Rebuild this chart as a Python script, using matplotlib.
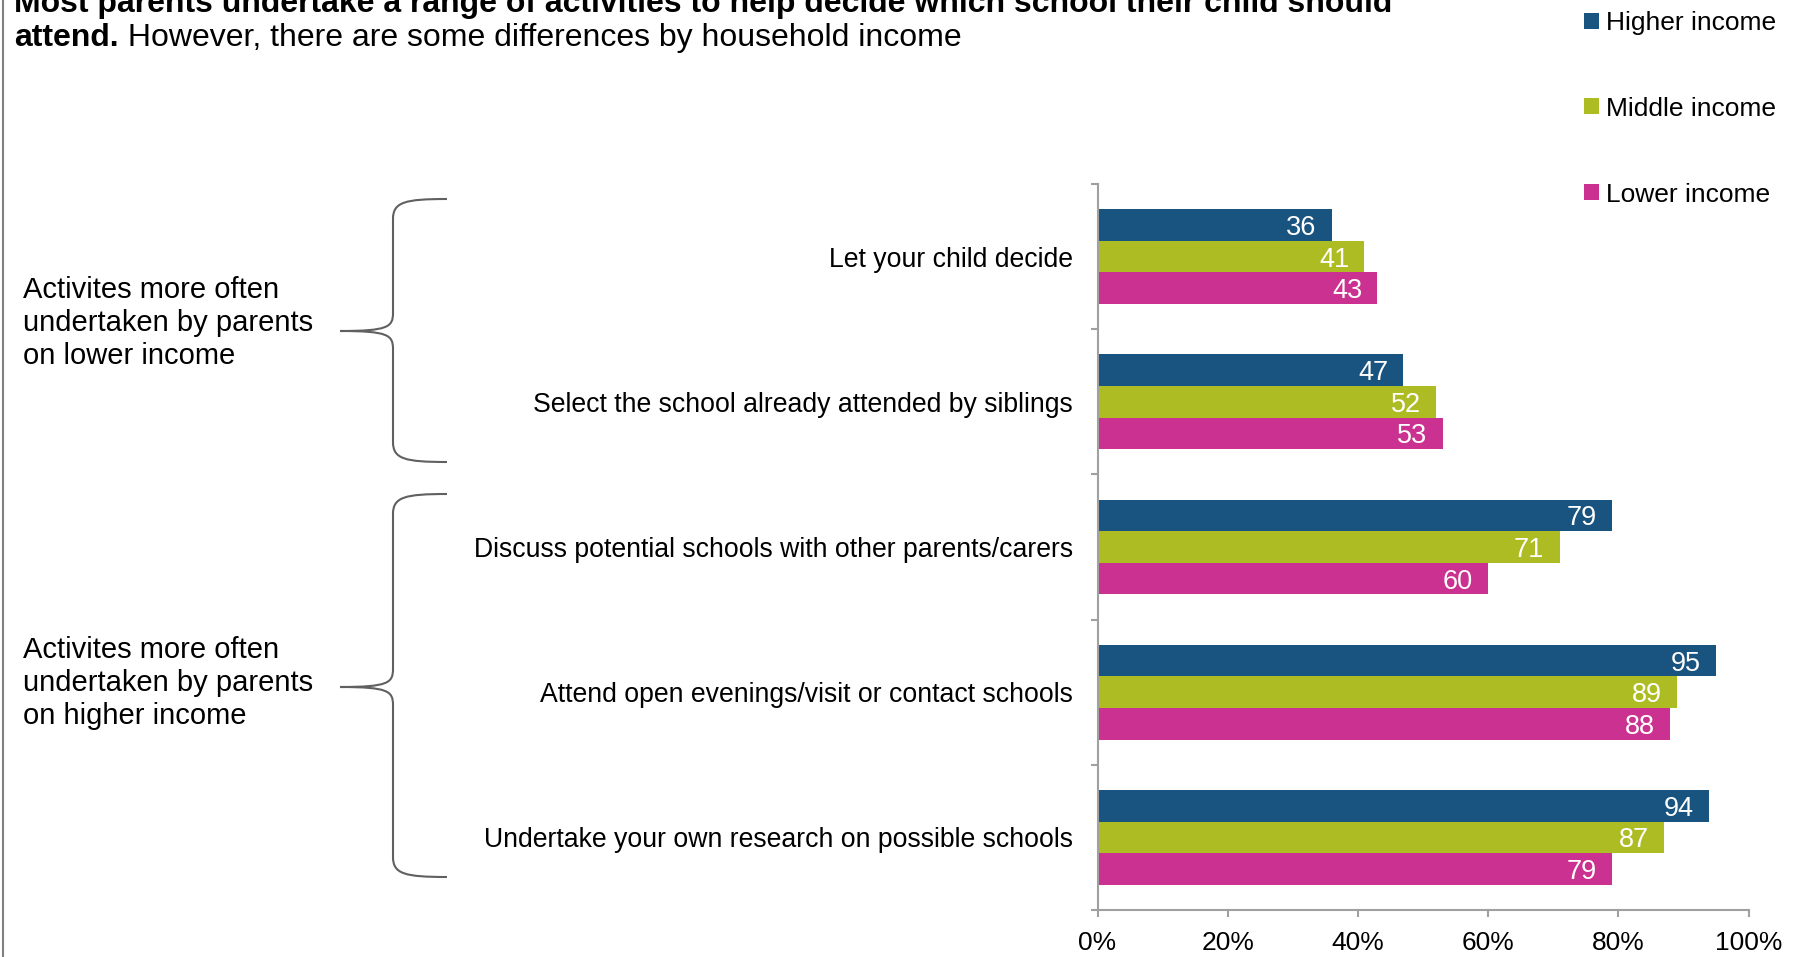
import numpy as np
import matplotlib.pyplot as plt
from matplotlib.path import Path
from matplotlib.patches import PathPatch

plt.rcParams['font.family'] = ['Liberation Sans', 'DejaVu Sans']

categories = ["Let your child decide",
              "Select the school already attended by siblings",
              "Discuss potential schools with other parents/carers",
              "Attend open evenings/visit or contact schools",
              "Undertake your own research on possible schools"]
higher = [36, 47, 79, 95, 94]
middle = [41, 52, 71, 89, 87]
lower = [43, 53, 60, 88, 79]
series_names = ["Higher income", "Middle income", "Lower income"]
colors = ['#19537F', '#ADBC23', '#CB3190']
xticks = [0, 20, 40, 60, 80, 100]
xticklabels = ["0%", "20%", "40%", "60%", "80%", "100%"]
group_labels = ["Activites more often\nundertaken by parents\non lower income",
                "Activites more often\nundertaken by parents\non higher income"]

W, H = 1800, 957
def fx(px):
    return px / W
def fy(py):
    return 1 - py / H

fig = plt.figure(figsize=(18, 9.57), dpi=100)
ax = fig.add_axes([fx(1097.5), fy(910), fx(1748.5) - fx(1097.5), fy(184) - fy(910)])

grey = '#A0A0A0'
y = np.arange(len(categories))
h = 0.218
for i, (vals, c) in enumerate(zip([higher, middle, lower], colors)):
    ax.barh(y + (i - 1) * h, vals, height=h, color=c, label=series_names[i])
    for yy, v in zip(y + (i - 1) * h, vals):
        ax.annotate(str(v), (v, yy), xytext=(-11, 0), textcoords='offset points',
                    ha='right', va='center_baseline', color='white', fontsize=19.5)

ax.set_xlim(0, 100)
ax.set_ylim(len(categories) - 0.5, -0.5)
ax.set_xticks(xticks)
ax.set_xticklabels(xticklabels)
ax.set_yticks(np.arange(len(categories) + 1) - 0.5)
ax.set_yticklabels([])
ax.set_yticks(y, minor=True)
ax.set_yticklabels(categories, minor=True)
ax.tick_params(axis='y', which='major', length=5, color=grey, width=1.5)
ax.tick_params(axis='y', which='minor', length=0, pad=17.5, labelsize=19.2)
ax.tick_params(axis='x', length=5, color=grey, width=1.5, pad=10, labelsize=19)
for s in ['top', 'right']:
    ax.spines[s].set_visible(False)
for s in ['left', 'bottom']:
    ax.spines[s].set_color(grey)
    ax.spines[s].set_linewidth(1.5)

ax.legend(loc='upper left', bbox_to_anchor=(fx(1584), fy(11)), bbox_transform=fig.transFigure,
          frameon=False, handlelength=0.55, handleheight=0.55, handletextpad=0.3,
          labelspacing=2.34, borderpad=0, borderaxespad=0, fontsize=19)

# title
fig.text(fx(14), fy(12), "Most parents undertake a range of activities to help decide which school their child should",
         fontsize=23, fontweight='bold', va='baseline', ha='left')
t2 = fig.text(fx(14), fy(46), "attend.", fontsize=23, fontweight='bold', va='baseline', ha='left')
fig.add_artist(plt.Annotation(" However, there are some differences by household income", xy=(1, 0),
                              xycoords=t2, va='bottom', ha='left', fontsize=23))

# group labels and braces
for lab, ymid, (top, mid, bot) in zip(group_labels, [323, 683], [(199, 331, 462), (494, 687, 877)]):
    fig.text(fx(23), fy(ymid), lab, fontsize=21, va='center', ha='left', linespacing=1.24)
    xe, xs, xt = 447, 393, 340
    verts = [(xe, top), (405, top), (xs, top + 3), (xs, top + 20),
             (xs, mid - 18),
             (xs, mid - 4), (388, mid), (xt, mid),
             (388, mid), (xs, mid + 4), (xs, mid + 18),
             (xs, bot - 20),
             (xs, bot - 3), (405, bot), (xe, bot)]
    codes = [Path.MOVETO, Path.CURVE4, Path.CURVE4, Path.CURVE4,
             Path.LINETO,
             Path.CURVE4, Path.CURVE4, Path.CURVE4,
             Path.CURVE4, Path.CURVE4, Path.CURVE4,
             Path.LINETO,
             Path.CURVE4, Path.CURVE4, Path.CURVE4]
    verts = [(fx(a), fy(b)) for a, b in verts]
    fig.add_artist(PathPatch(Path(verts, codes), transform=fig.transFigure,
                             facecolor='none', edgecolor='#606060', lw=1.5))

# slide frame at left
fig.add_artist(plt.Line2D([fx(3), fx(3)], [0, 1], transform=fig.transFigure, color='#808080', lw=1.5))

fig.savefig('out.png', dpi=100)
